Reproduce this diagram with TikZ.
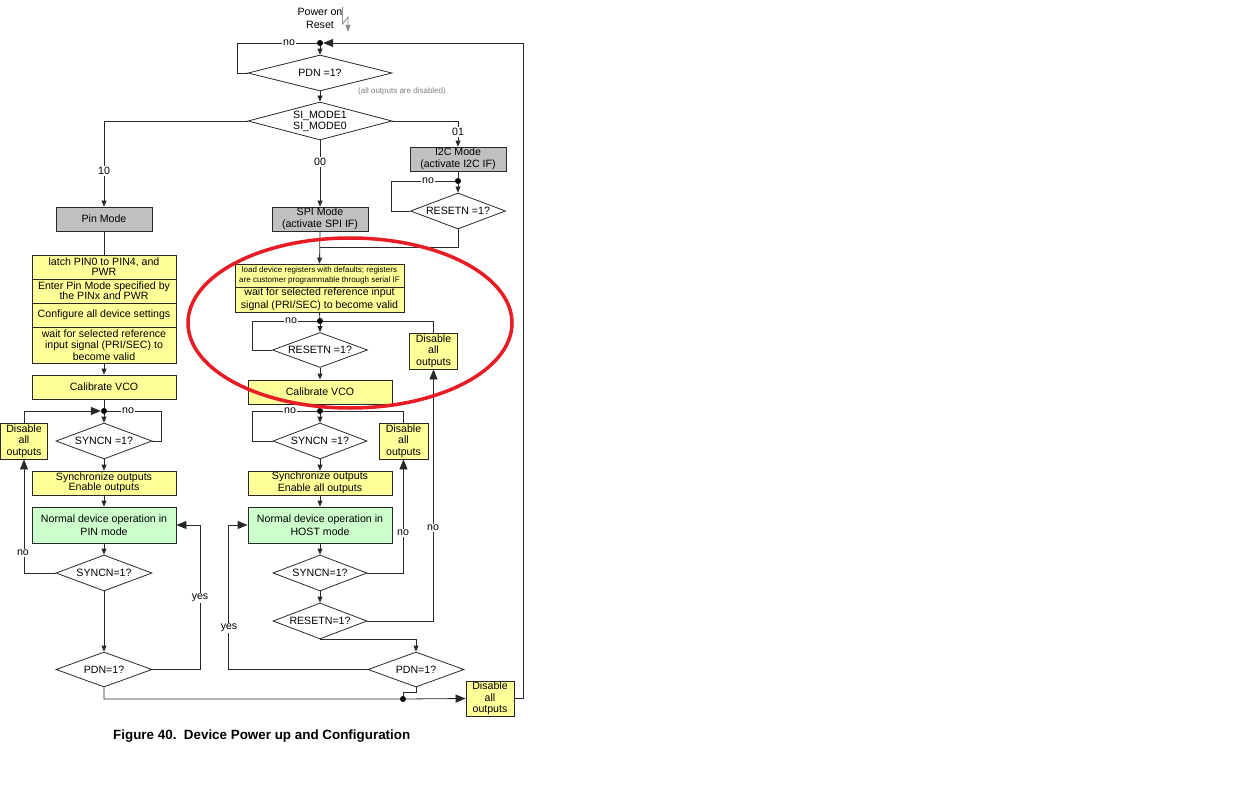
\documentclass[tikz,border=0pt]{standalone}
\usepackage{fontspec}
\setmainfont{Liberation Sans}
\usetikzlibrary{shapes.geometric,arrows.meta}
\definecolor{yel}{RGB}{255,255,153}
\definecolor{grn}{RGB}{204,255,204}
\definecolor{gry}{RGB}{192,192,192}
\definecolor{ell}{RGB}{232,28,36}
\definecolor{ln}{RGB}{40,40,40}
\newcommand\fs{\fontsize{10.6}{12.5}\selectfont}
\newcommand\fsg{\fontsize{10.6}{12}\selectfont}
\newcommand\fst{\fontsize{10.6}{10.2}\selectfont}
\newcommand\fsm{\fontsize{10.6}{11.3}\selectfont}
\newcommand\fsmall{\fontsize{8}{9.5}\selectfont}
\begin{document}
\begin{tikzpicture}[x=1pt,y=-1pt,
  base/.style={draw=ln, line width=0.8pt, inner sep=0pt, align=center, font=\fs},
  ybox/.style={base, fill=yel},
  gbox/.style={base, fill=gry},
  nbox/.style={base, fill=grn},
  dia/.style={base, shape=diamond, fill=white},
  dot/.style={circle, fill=black, inner sep=0pt, minimum size=6pt},
  con/.style={line width=0.8pt, draw=ln},
  sarr/.style={con, -{Triangle[length=6pt,width=5pt]}},
  barr/.style={con, -{Triangle[length=10pt,width=8pt]}},
  lbl/.style={fill=white, inner sep=1pt, font=\fs}]
\fill[white] (0,0) rectangle (1257,802);
\useasboundingbox (0,0) rectangle (1257,802);

% ---------- top ----------
\node[font=\fs, align=center, inner sep=0pt] (pwr) at (320,18.5) {Power on\\Reset};
\draw[line width=0.8pt, draw=black!45, -{Triangle[length=7pt,width=5pt]}] (342.5,7) -- (342.5,24) -- (348,17) -- (348,32);
\node[dot] (j0) at (320,43) {};
\node[dia, minimum width=144pt, minimum height=36pt, aspect=4] (pdn0) at (320,73) {PDN =1?};
\node[font=\fsmall, text=black!50, inner sep=0pt] (allout) at (402,91) {(all outputs are disabled)};
\node[dia, minimum width=144pt, minimum height=38pt, aspect=3.8, font=\fst] (si) at (320,121) {SI\_MODE1\\[1pt]SI\_MODE0};
\node[gbox, minimum width=96pt, minimum height=24pt] (pin) at (104,219) {Pin Mode};
\node[gbox, minimum width=96pt, minimum height=24pt, font=\fsg] (i2c) at (458,159) {I2C Mode\\(activate I2C IF)};
\node[gbox, minimum width=96pt, minimum height=24pt, font=\fsg] (spi) at (320,219) {SPI Mode\\(activate SPI IF)};
\node[dot] (j1) at (458,181) {};
\node[dia, minimum width=95pt, minimum height=36pt, aspect=2.64] (rst0) at (458,211) {RESETN =1?};
\coordinate (m1) at (320,247);
\coordinate (R) at (523,43);

% ---------- pin column ----------
\node[ybox, minimum width=144pt, minimum height=24pt, font=\fst] (latch) at (104,267) {latch PIN0 to PIN4, and\\PWR};
\node[ybox, minimum width=144pt, minimum height=24pt, font=\fst] (enter) at (104,291) {Enter Pin Mode specified by\\the PINx and PWR};
\node[ybox, minimum width=144pt, minimum height=24pt] (config) at (104,315) {Configure all device settings};
\node[ybox, minimum width=144pt, minimum height=36pt, font=\fsm] (wait1) at (104,345) {wait for selected reference\\input signal (PRI/SEC) to\\become valid};
\node[ybox, minimum width=144pt, minimum height=24pt] (cal1) at (104,387) {Calibrate VCO};
\node[dot] (j2) at (104,411) {};
\node[dia, minimum width=96pt, minimum height=36pt, aspect=2.67] (sync1) at (104,441) {SYNCN =1?};
\node[ybox, minimum width=47pt, minimum height=36pt, font=\fsm] (dis1) at (24,441) {Disable\\all\\outputs};
\node[ybox, minimum width=144pt, minimum height=24pt, font=\fst] (syn1) at (104,483) {Synchronize outputs\\Enable outputs};
\node[nbox, minimum width=144pt, minimum height=36pt] (norm1) at (104,525) {Normal device operation in\\PIN mode};
\node[dia, minimum width=96pt, minimum height=36pt, aspect=2.67] (sy2) at (104,573) {SYNCN=1?};
\node[dia, minimum width=96pt, minimum height=35pt, aspect=2.74] (pdn1) at (104,669.5) {PDN=1?};

% ---------- host column ----------
\node[ybox, minimum width=169pt, minimum height=23pt, font=\fsmall] (load) at (319.5,275.5) {load device registers with defaults; registers\\are customer programmable through serial IF};
\node[ybox, minimum width=169pt, minimum height=25pt] (wait2) at (319.5,299.5) {wait for selected reference input\\signal (PRI/SEC) to become valid};
\node[dot] (j3) at (320,321) {};
\node[dia, minimum width=95pt, minimum height=35pt, aspect=2.7] (rst1) at (320,350) {RESETN =1?};
\node[ybox, minimum width=48pt, minimum height=36pt, font=\fsm] (dis2) at (433.5,351) {Disable\\all\\outputs};
\node[ybox, minimum width=144pt, minimum height=24pt] (cal2) at (320,392) {Calibrate VCO};
\node[dot] (j4) at (320,411) {};
\node[dia, minimum width=94pt, minimum height=36pt, aspect=2.6] (sy3) at (320,441) {SYNCN =1?};
\node[ybox, minimum width=49pt, minimum height=36pt, font=\fsm] (dis3) at (403.5,441) {Disable\\all\\outputs};
\node[ybox, minimum width=144pt, minimum height=24pt] (syn2) at (320,483) {Synchronize outputs\\Enable all outputs};
\node[nbox, minimum width=144pt, minimum height=36pt] (norm2) at (320,525) {Normal device operation in\\HOST mode};
\node[dia, minimum width=94pt, minimum height=36pt, aspect=2.6] (sy4) at (320,573) {SYNCN=1?};
\node[dia, minimum width=94pt, minimum height=36pt, aspect=2.6] (rst2) at (320,621) {RESETN=1?};
\node[dia, minimum width=96pt, minimum height=35pt, aspect=2.74] (pdn2) at (416,669.5) {PDN=1?};
\node[dot] (j5) at (403,699) {};
\node[ybox, minimum width=48pt, minimum height=35pt, font=\fsm] (dis4) at (490,698.5) {Disable\\all\\outputs};

% ---------- connectors: top ----------
\draw[barr] (dis4.east) -| (R) -- (j0);
\draw[con] (pdn0.west) -- ++(-10,0) |- (j0);
\draw[sarr] (j0) -- (pdn0.north);
\draw[sarr] (pdn0.south) -- (si.north);
\draw[sarr] (si.west) -| (pin.north);
\draw[sarr] (si.south) -- (spi.north);
\draw[sarr] (si.east) -| (i2c.north);
\draw[con] (i2c.south) -- (j1);
\draw[sarr] (j1) -- (rst0.north);
\draw[con] (rst0.west) -- ++(-19,0) |- (j1);
\draw[con] (rst0.south) |- (m1);
\draw[sarr] (spi.south) -- (load.north);

% ---------- connectors: pin ----------
\draw[con] (pin.south) -- (latch.north);
\draw[sarr] (wait1.south) -- (cal1.north);
\draw[con] (cal1.south) -- (j2);
\draw[sarr] (j2) -- (sync1.north);
\draw[con] (sync1.east) -- ++(9,0) |- (j2);
\draw[barr] (dis1.north) |- (j2);
\draw[sarr] (sync1.south) -- (syn1.north);
\draw[sarr] (syn1.south) -- (norm1.north);
\draw[sarr] (norm1.south) -- (sy2.north);
\draw[barr] (sy2.west) -| (dis1.south);
\draw[sarr] (sy2.south) -- (pdn1.north);
\draw[barr] (pdn1.east) -- ++(48,0) |- (norm1.east);
\draw[barr] (pdn1.south) |- (j5) -- (dis4.west);

% ---------- connectors: host ----------
\draw[con] (wait2.south) -- (j3);
\draw[sarr] (j3) -- (rst1.north);
\draw[con] (rst1.west) -- ++(-19.5,0) |- (j3);
\draw[con] (j3) -| (dis2.north);
\draw[sarr] (rst1.south) -- (cal2.north);
\draw[con] (cal2.south) -- (j4);
\draw[sarr] (j4) -- (sy3.north);
\draw[con] (sy3.west) -- ++(-20,0) |- (j4);
\draw[con] (j4) -| (dis3.north);
\draw[sarr] (sy3.south) -- (syn2.north);
\draw[sarr] (syn2.south) -- (norm2.north);
\draw[sarr] (norm2.south) -- (sy4.north);
\draw[sarr] (sy4.south) -- (rst2.north);
\draw[barr] (sy4.east) -| (dis3.south);
\draw[barr] (rst2.east) -| (dis2.south);
\draw[sarr] (rst2.south) -| (pdn2.north);
\draw[barr] (pdn2.west) -- ++(-139,0) |- (norm2.west);
\draw[con] (pdn2.south) -- ++(0,4.5) -| (j5);

% ---------- labels ----------
\node[lbl] (l1) at (289,43) {no};
\node[lbl] (l2) at (104,171) {10};
\node[lbl] (l3) at (320,162) {00};
\node[lbl] (l4) at (458,132) {01};
\node[lbl] (l5) at (428,181) {no};
\node[lbl] (l6) at (128,411) {no};
\node[lbl] (l7) at (23,553) {no};
\node[lbl] (l8) at (200,598) {yes};
\node[lbl] (l9) at (291,321) {no};
\node[lbl] (l10) at (290,411) {no};
\node[lbl] (l11) at (403,533) {no};
\node[lbl] (l12) at (433,528) {no};
\node[lbl] (l13) at (229,628) {yes};

% ---------- highlight ellipse ----------
\draw[ell, line width=3.5pt] (350,323) ellipse [x radius=162pt, y radius=85pt];

% ---------- caption ----------
\node[anchor=base west, inner sep=0pt, font=\fontsize{13.4}{15}\selectfont\bfseries] (cap) at (113,739) {Figure 40.\ \ Device Power up and Configuration};
\end{tikzpicture}
\end{document}
